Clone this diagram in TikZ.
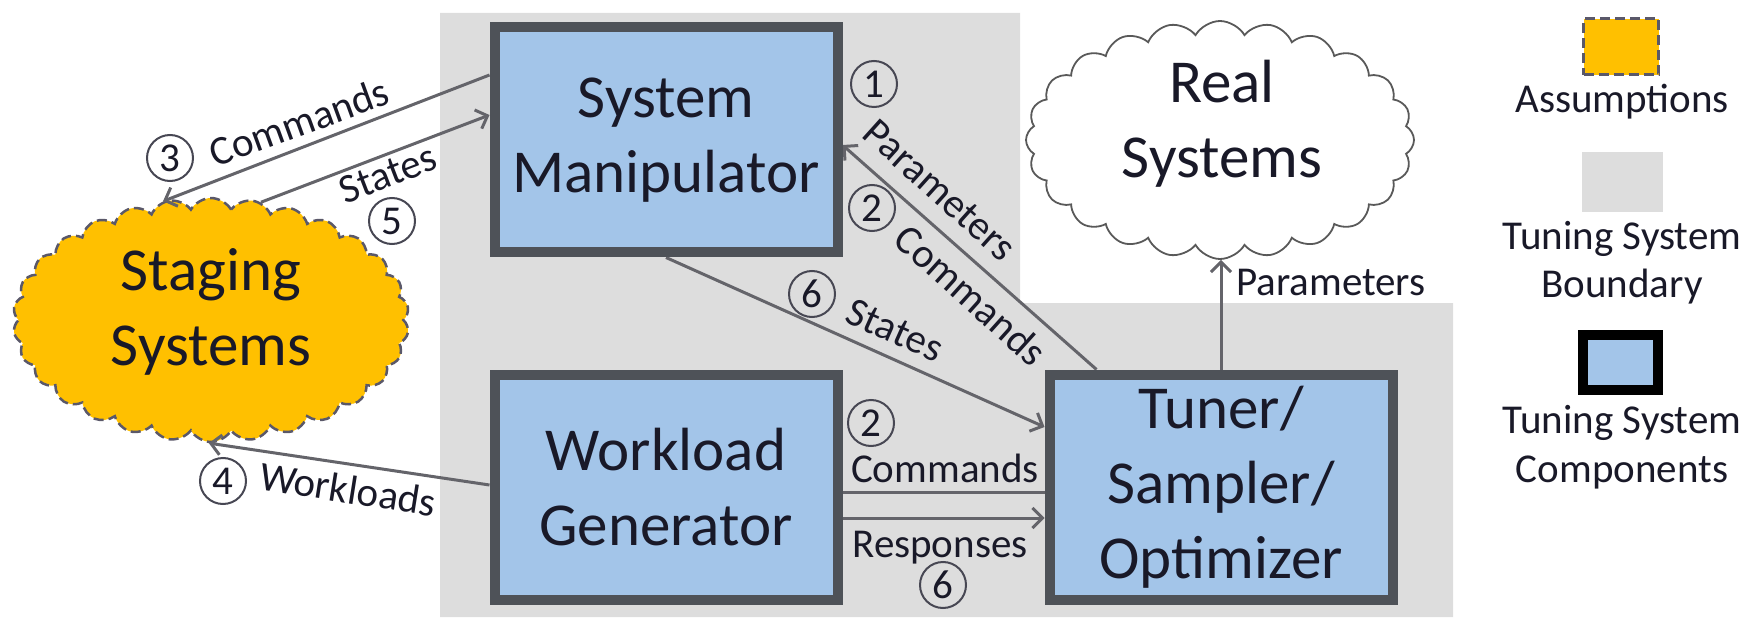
\documentclass[tikz,border=0pt]{standalone}
\usepackage{fontspec}
\setmainfont{Carlito}
\usetikzlibrary{shapes.symbols,arrows.meta,backgrounds}
\definecolor{bnd}{RGB}{221,221,221}
\definecolor{boxfill}{RGB}{163,197,233}
\definecolor{boxline}{RGB}{78,82,88}
\definecolor{gold}{RGB}{255,192,0}
\definecolor{goldline}{RGB}{90,88,105}
\definecolor{arr}{RGB}{100,100,106}
\definecolor{txt}{RGB}{25,25,40}
\newcommand\bigfont{\fontsize{61}{75}\selectfont}
\newcommand\smallfont{\fontsize{41}{49}\selectfont}
\tikzset{
 comp/.style={draw=boxline, line width=10pt, fill=boxfill, minimum width=343pt, minimum height=225pt, inner sep=0pt, font=\bigfont, align=center, text=txt},
 conn/.style={draw=arr, line width=3pt, -{Straight Barb[length=10pt,width=20pt,line width=3pt]}},
 plainconn/.style={draw=arr, line width=3pt},
 lbl/.style={font=\smallfont, text=txt, inner sep=0pt},
 num/.style={circle, draw=txt!80, line width=2pt, minimum size=46pt, inner sep=0pt, font=\smallfont, text=txt},
 bigtxt/.style={font=\bigfont, text=txt, align=center, inner sep=0pt},
}
\begin{document}
\begin{tikzpicture}[x=1pt,y=-1pt]
\useasboundingbox (0,0) rectangle (1747,620);
% components
\node[comp] (sm) at (666,140) {System\\Manipulator};
\node[comp] (wg) at (666,487) {Workload\\Generator};
\node[comp] (tuner) at (1221,487) {Tuner/\\Sampler/\\Optimizer};
\begin{pgfonlayer}{background}
\fill[bnd] (440,13) -- (1020,13) -- (1020,303) -- (1453,303) -- (1453,617) -- (440,617) -- cycle;
\node[cloud, cloud puffs=30, cloud puff arc=120, cloud ignores aspect, minimum width=396pt, minimum height=244pt, fill=gold, draw=goldline, dash pattern=on 10pt off 5pt, line width=2.5pt, inner sep=0pt] (staging) at (211,320) {};
\node[cloud, cloud puffs=24, cloud puff arc=120, cloud ignores aspect, minimum width=388pt, minimum height=238pt, fill=white, draw=gray!70!black, line width=1.8pt, inner sep=0pt] (real) at (1220,140) {};
% connectors
\draw[conn] ([yshift=65pt]sm.west) -- (staging.112);
\draw[conn] (staging.67) -- ([yshift=25pt]sm.west);
\draw[conn] ([yshift=2pt]wg.west) -- (staging.269);
\draw[conn] ([xshift=52pt]tuner.north west) -- ([yshift=-5pt]sm.east);
\draw[conn] (sm.south) -- ([yshift=60pt]tuner.west);
\draw[plainconn] ([yshift=-5pt]tuner.west) -- ([yshift=-5pt]wg.east);
\draw[conn] ([yshift=-31pt]wg.east) -- ([yshift=-31pt]tuner.west);
\draw[conn] (tuner.north) -- (tuner.north |- real.south);
\end{pgfonlayer}
% cloud texts
\node[bigtxt] (stagingtxt) at (211,312) {Staging\\Systems};
\node[bigtxt] (realtxt) at (1222,124) {Real\\Systems};
% labels
\node[num] (n1) at (874,84) {1};
\node[lbl, rotate=-42] (lpar) at (940,190) {Parameters};
\node[num] (n2a) at (872,208) {2};
\node[lbl, rotate=-42] (lcmd1) at (971,295) {Commands};
\node[num] (n6a) at (812,294) {6};
\node[lbl, rotate=-24] (lst1) at (895,330) {States};
\node[num] (n2b) at (871,423) {2};
\node[lbl, anchor=base] (lcmd2) at (945,482) {Commands};
\node[lbl, anchor=base] (lresp) at (940,557) {Responses};
\node[num] (n6b) at (943,585) {6};
\node[num] (n3) at (170,158) {3};
\node[lbl, rotate=20] (lcmd3) at (299,122) {Commands};
\node[lbl, rotate=21] (lst2) at (388,174) {States};
\node[num] (n5) at (392,221) {5};
\node[num] (n4) at (223,481) {4};
\node[lbl, rotate=-9] (lwl) at (348,489) {Workloads};
\node[lbl, anchor=base west] (lpar2) at (1236,295) {Parameters};
% legend
\node[draw=goldline, dash pattern=on 10pt off 5pt, line width=3pt, fill=gold, minimum width=75pt, minimum height=56pt, inner sep=0pt] (lgA) at (1621,47) {};
\node[lbl, anchor=base] (lgAt) at (1622,113) {Assumptions};
\node[fill=bnd, minimum width=81pt, minimum height=60pt, inner sep=0pt] (lgB) at (1622,182) {};
\node[lbl, anchor=base] (lgBt1) at (1622,250) {Tuning System};
\node[lbl, anchor=base] (lgBt2) at (1622,298) {Boundary};
\node[draw=black, line width=10pt, fill=boxfill, minimum width=75pt, minimum height=55pt, inner sep=0pt] (lgC) at (1620,362) {};
\node[lbl, anchor=base] (lgCt1) at (1622,433) {Tuning System};
\node[lbl, anchor=base] (lgCt2) at (1622,482) {Components};
\end{tikzpicture}
\end{document}
